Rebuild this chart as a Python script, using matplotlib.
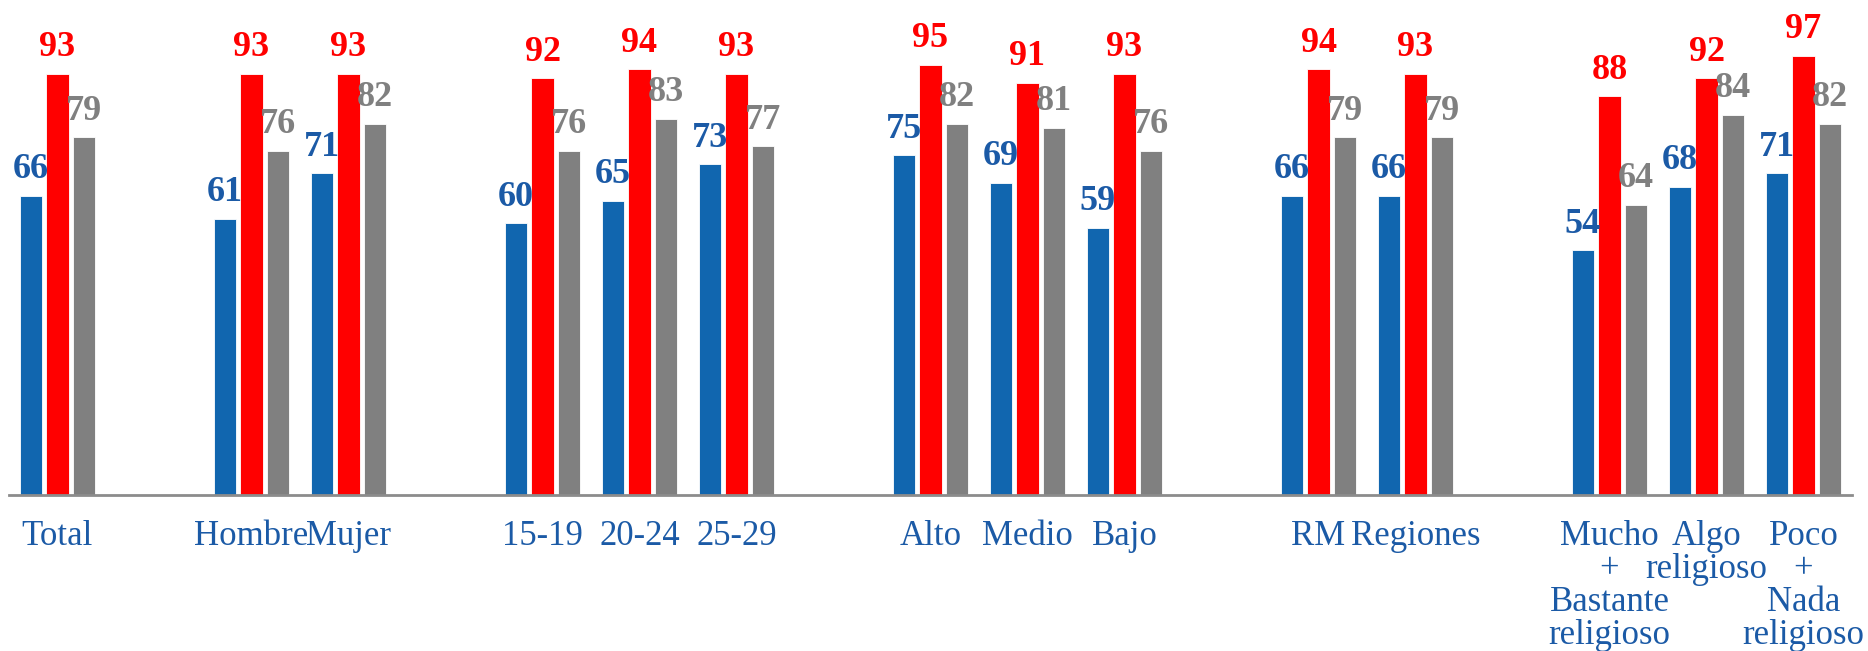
import numpy as np
import matplotlib
matplotlib.use("Agg")
import matplotlib.pyplot as plt

# blank categories act as spacers between groups, like the original sheet
categories = [
    "Total", "",
    "Hombre", "Mujer", "",
    "15-19", "20-24", "25-29", "",
    "Alto", "Medio", "Bajo", "",
    "RM", "Regiones", "",
    "Mucho\n+\nBastante\nreligioso", "Algo\nreligioso", "Poco\n+\nNada\nreligioso",
]
serie_azul = [66, None, 61, 71, None, 60, 65, 73, None, 75, 69, 59, None, 66, 66, None, 54, 68, 71]
serie_roja = [93, None, 93, 93, None, 92, 94, 93, None, 95, 91, 93, None, 94, 93, None, 88, 92, 97]
serie_gris = [79, None, 76, 82, None, 76, 83, 77, None, 82, 81, 76, None, 79, 79, None, 64, 84, 82]

BLUE = "#1166AF"
BLUE_TXT = "#1B5AA6"
RED = "#FF0000"
GRAY = "#808080"

plt.rcParams["font.family"] = ["Liberation Serif", "DejaVu Serif"]

fig = plt.figure(figsize=(18.68, 6.51), dpi=100)
ax = fig.add_axes([9 / 1868, 156 / 651, 1843 / 1868, 495 / 651])

x = np.arange(len(categories))
width = 0.23
offset = 0.275

series = [(serie_azul, BLUE, BLUE_TXT, -offset),
          (serie_roja, RED, RED, 0.0),
          (serie_gris, GRAY, GRAY, offset)]

for vals, color, txt_color, dx in series:
    v = np.array([np.nan if a is None else a for a in vals], dtype=float)
    ok = ~np.isnan(v)
    bars = ax.bar(x[ok] + dx, v[ok], width=width, color=color,
                  edgecolor="white", linewidth=0.6, zorder=2)
    for b, val in zip(bars, v[ok]):
        ax.annotate(f"{int(val)}", (b.get_x() + b.get_width() / 2, val),
                    xytext=(0, 7), textcoords="offset points",
                    ha="center", va="bottom", fontsize=26,
                    fontweight="bold", color=txt_color)

ax.set_xlim(-0.5, len(categories) - 0.5)
ax.set_ylim(0, 109.3)
ax.set_yticks([])
ax.set_xticks(x)
ax.set_xticklabels(categories, fontsize=25, color=BLUE_TXT, linespacing=1.0)
ax.tick_params(axis="x", length=0, pad=18)

for s in ["top", "right", "left"]:
    ax.spines[s].set_visible(False)
ax.spines["bottom"].set_color("#8C8C8C")
ax.spines["bottom"].set_linewidth(2)

fig.savefig("out.png", dpi=100)
